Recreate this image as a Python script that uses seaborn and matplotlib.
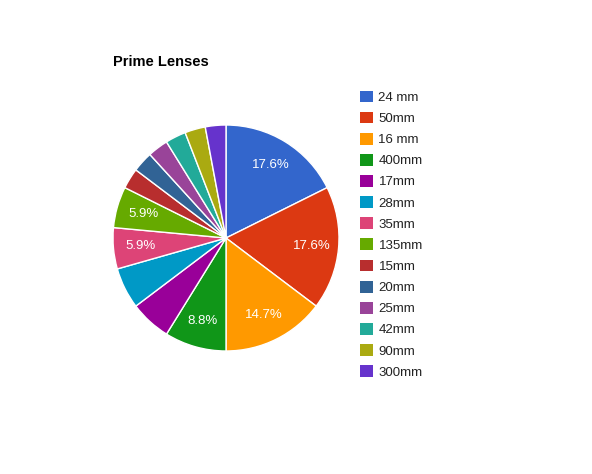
import matplotlib
matplotlib.use("Agg")
import matplotlib.pyplot as plt
import seaborn as sns
from matplotlib.patches import Patch

lenses = ["24 mm", "50mm", "16 mm", "400mm", "17mm", "28mm", "35mm",
          "135mm", "15mm", "20mm", "25mm", "42mm", "90mm", "300mm"]
counts = [6, 6, 5, 3, 2, 2, 2, 2, 1, 1, 1, 1, 1, 1]
colores = ["#3366cc", "#dc3912", "#ff9900", "#109618", "#990099", "#0099c6",
           "#dd4477", "#66aa00", "#b82e2e", "#316395", "#994499", "#22aa99",
           "#aaaa11", "#6633cc"]
# slices where the chart prints a percentage
con_etiqueta = ["24 mm", "50mm", "16 mm", "400mm", "35mm", "135mm"]

sns.set_style("white")
plt.rcParams["font.family"] = ["Liberation Sans", "DejaVu Sans"]

W, H = 592, 474
fig = plt.figure(figsize=(W / 100, H / 100), dpi=100)
cx, cy, r = 226, 238, 113
ax = fig.add_axes([(cx - r) / W, (H - cy - r) / H, 2 * r / W, 2 * r / H])

def fmt(pct, _it=iter(lenses)):
    nombre = next(_it)
    return f"{pct:.1f}%" if nombre in con_etiqueta else ""

wedges, _, autotexts = ax.pie(counts, colors=colores, startangle=90, counterclock=False,
                              radius=1, autopct=fmt, pctdistance=0.76,
                              wedgeprops=dict(edgecolor="white", linewidth=1))
for t in autotexts:
    t.set_color("white")
    t.set_fontsize(9.5)
ax.set_xlim(-1, 1)
ax.set_ylim(-1, 1)
ax.set_aspect("equal")
ax.axis("off")

fig.text(113 / W, 1 - 62 / H, "Prime Lenses", fontsize=10.5, fontweight="bold",
         va="center", ha="left", color="#000000")

handles = [Patch(facecolor=c, edgecolor="none") for c in colores]
leg = fig.legend(handles, lenses, loc="upper left", bbox_to_anchor=(360 / W, 1 - 90.5 / H),
                 frameon=False, fontsize=9.5, handlelength=1.0, handleheight=1.0,
                 labelspacing=0.585, handletextpad=0.4, borderpad=0, borderaxespad=0)
for t in leg.get_texts():
    t.set_color("#222222")

fig.savefig("out.png", dpi=100, facecolor="white")
